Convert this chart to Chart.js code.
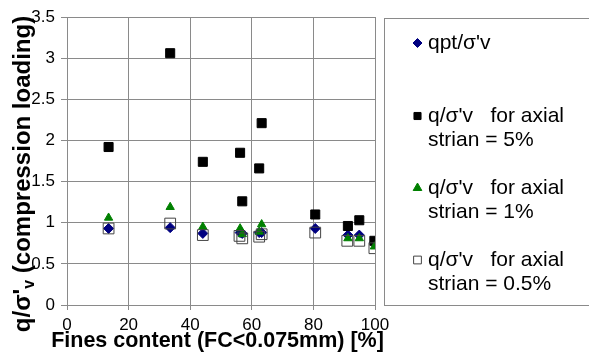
<!DOCTYPE html>
<html>
<head>
<meta charset="utf-8">
<script src="https://cdn.jsdelivr.net/npm/chart.js@4.4.1/dist/chart.umd.min.js"></script>
<style>
  html, body { margin: 0; padding: 0; background: #fff; }
  canvas { display: block; }
</style>
</head>
<body>
<canvas id="chart" width="589" height="362"></canvas>
<script>
// fines content [%] per test, and ratios
const FC_ALL = [13.5, 33.5, 44.1, 56.2, 56.9, 62.4, 63.2, 80.6, 91.2, 94.9, 99.8];
const FC_1PCT = [13.5, 33.5, 44.1, 56.2, 56.9, 62.4, 63.2, 91.2, 94.9, 99.8];
const FC_05PCT = [13.5, 33.5, 44.1, 56.0, 56.9, 62.4, 63.2, 80.6, 91.0, 94.9, 99.8];

const QPT = [0.93, 0.94, 0.87, 0.88, 0.87, 0.88, 0.88, 0.93, 0.85, 0.85, 0.76];
const Q_5PCT = [1.92, 3.06, 1.74, 1.85, 1.26, 1.66, 2.21, 1.10, 0.96, 1.03, 0.78];
const Q_1PCT = [1.06, 1.19, 0.95, 0.93, 0.86, 0.89, 0.98, 0.81, 0.81, 0.71];
const Q_05PCT = [0.93, 0.99, 0.85, 0.84, 0.81, 0.83, 0.86, 0.88, 0.78, 0.78, 0.69];

const X_TICKS = { min: 0, max: 100, step: 20 };
const Y_TICKS = { min: 0, max: 3.5, step: 0.5 };

const X_TITLE = "Fines content (FC<0.075mm) [%]";
const Y_TITLE = ["q/σ'", "v", " (compression loading)"];

const LEGEND = [
  { lines: ["qpt/σ'v"], style: "rectRot", fill: "#000080", stroke: "#000080", r: 4.5 },
  { lines: ["q/σ'v   for axial", "strian = 5%"], style: "rect", fill: "#000000", stroke: "#000000", r: 5 },
  { lines: ["q/σ'v   for axial", "strian = 1%"], style: "triangle", fill: "#008000", stroke: "#008000", r: 5 },
  { lines: ["q/σ'v   for axial", "strian = 0.5%"], style: "rect", fill: "rgba(0,0,0,0)", stroke: "#444444", r: 5.5 },
];

const GRID = "#8a8a8a";
const FONT = "'Liberation Sans', Arial, sans-serif";

function pts(xs, ys) {
  return xs.map((x, i) => ({ x, y: ys[i] }));
}

// draws the axis titles (with the subscript v) and the boxed legend
const decorations = {
  id: "decorations",
  afterDraw(chart) {
    const ctx = chart.ctx;
    const area = chart.chartArea;
    ctx.save();
    ctx.fillStyle = "#000";

    // x title
    ctx.font = "bold 21.5px " + FONT;
    ctx.textAlign = "center";
    ctx.textBaseline = "middle";
    ctx.fillText(X_TITLE, 217.5, 341);

    // y title, rotated, with subscript
    const big = "bold 24px " + FONT;
    const small = "bold 16px " + FONT;
    ctx.font = big;
    const w1 = ctx.measureText(Y_TITLE[0]).width;
    const w3 = ctx.measureText(Y_TITLE[2]).width;
    ctx.font = small;
    const w2 = ctx.measureText(Y_TITLE[1]).width;
    const total = w1 + w2 + w3;
    ctx.translate(29.5, 174);
    ctx.rotate(-Math.PI / 2);
    ctx.textAlign = "left";
    ctx.textBaseline = "alphabetic";
    let x = -total / 2;
    ctx.font = big;
    ctx.fillText(Y_TITLE[0], x, 0);
    x += w1;
    ctx.font = small;
    ctx.fillText(Y_TITLE[1], x, 4);
    x += w2;
    ctx.font = big;
    ctx.fillText(Y_TITLE[2], x, 0);
    ctx.restore();

    // legend box
    ctx.save();
    ctx.strokeStyle = GRID;
    ctx.lineWidth = 1;
    ctx.strokeRect(area.right + 9.5, 18.5, 300, 287);

    const rowY = [43, 116, 188, 260];
    ctx.font = "21px " + FONT;
    ctx.textAlign = "left";
    ctx.textBaseline = "middle";
    LEGEND.forEach((item, i) => {
      ctx.fillStyle = item.fill;
      ctx.strokeStyle = item.stroke;
      ctx.lineWidth = 1;
      Chart.helpers.drawPoint(ctx, { pointStyle: item.style, radius: item.r, borderWidth: 1, rotation: 0 }, 417.5, rowY[i]);
      ctx.fillStyle = "#000";
      item.lines.forEach((line, j) => {
        ctx.fillText(line, 428, rowY[i] + j * 24);
      });
    });
    ctx.restore();
  },
};

new Chart(document.getElementById("chart"), {
  type: "scatter",
  data: {
    datasets: [
      {
        label: "qpt/σ'v",
        data: pts(FC_ALL, QPT),
        pointStyle: "rectRot",
        pointRadius: 5,
        backgroundColor: "#000080",
        borderColor: "#000080",
        borderWidth: 1,
        order: 4,
      },
      {
        label: "q/σ'v for axial strian = 5%",
        data: pts(FC_ALL, Q_5PCT),
        pointStyle: "rect",
        pointRadius: 6.4,
        backgroundColor: "#000000",
        borderColor: "#000000",
        borderWidth: 1,
        order: 3,
      },
      {
        label: "q/σ'v for axial strian = 1%",
        data: pts(FC_1PCT, Q_1PCT),
        pointStyle: "triangle",
        pointRadius: 4.8,
        backgroundColor: "#008000",
        borderColor: "#008000",
        borderWidth: 1,
        order: 2,
      },
      {
        label: "q/σ'v for axial strian = 0.5%",
        data: pts(FC_05PCT, Q_05PCT),
        pointStyle: "rect",
        pointRadius: 7.6,
        backgroundColor: "rgba(0,0,0,0)",
        borderColor: "#444444",
        borderWidth: 1,
        order: 1,
      },
    ],
  },
  options: {
    responsive: false,
    animation: false,
    layout: { padding: { top: 17, right: 214, bottom: 0, left: 0 } },
    plugins: { legend: { display: false }, tooltip: { enabled: false } },
    scales: {
      x: {
        type: "linear",
        min: X_TICKS.min,
        max: X_TICKS.max,
        afterFit: (s) => { s.height = 57; },
        ticks: { stepSize: X_TICKS.step, color: "#000", font: { family: FONT, size: 17 }, padding: 5, maxRotation: 0 },
        grid: { color: GRID, tickLength: 5, lineWidth: 1 },
        border: { color: GRID },
        title: { display: false },
      },
      y: {
        type: "linear",
        min: Y_TICKS.min,
        max: Y_TICKS.max,
        afterFit: (s) => { s.width = 67; },
        ticks: {
          stepSize: Y_TICKS.step,
          color: "#000",
          font: { family: FONT, size: 17 },
          padding: 6,
          callback: (v) => String(v),
        },
        grid: { color: GRID, tickLength: 6, lineWidth: 1 },
        border: { color: GRID },
        title: { display: false },
      },
    },
  },
  plugins: [decorations],
});
</script>
</body>
</html>
